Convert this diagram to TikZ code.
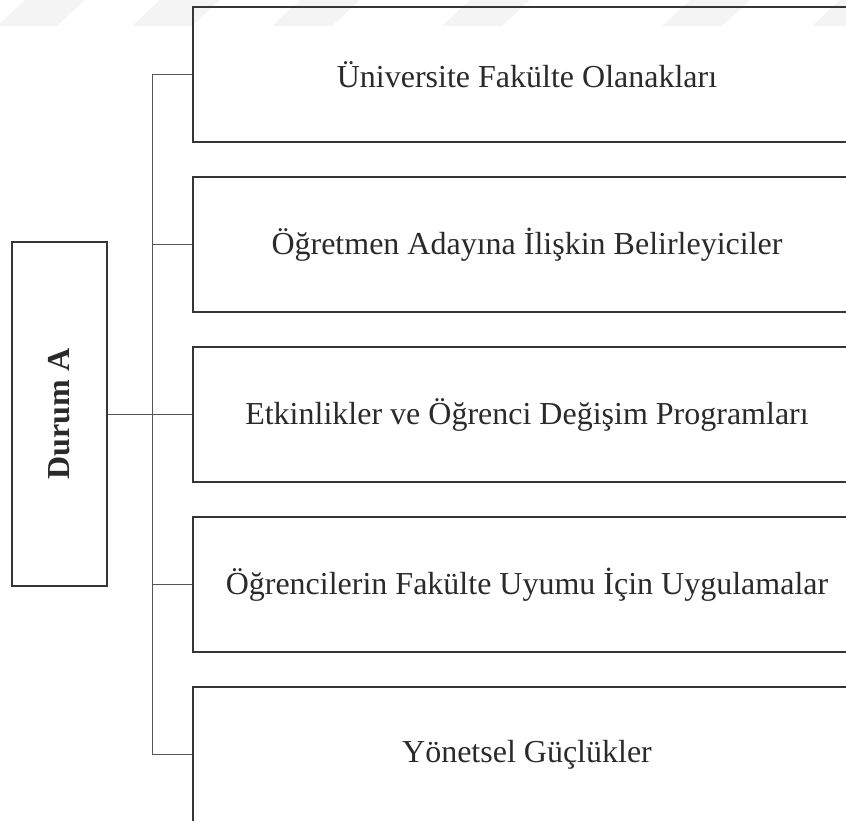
\documentclass[tikz,border=0pt]{standalone}
\usepackage{fontspec}
\setmainfont{Liberation Serif}
\usetikzlibrary{positioning,calc}
\definecolor{edge}{HTML}{353535}
\definecolor{wirec}{HTML}{555555}
\definecolor{ink}{HTML}{2A2A2A}
\definecolor{wmgray}{HTML}{F4F4F4}

\begin{document}
\begin{tikzpicture}[x=0.5pt,y=-0.5pt,
  catbox/.style={draw=edge,line width=1.1pt,minimum width=334pt,minimum height=67.5pt,inner sep=0pt,font=\fontsize{16}{19}\selectfont,text=ink},
  rootbox/.style={draw=edge,line width=1.1pt,minimum width=172pt,minimum height=47.5pt,inner sep=0pt,rotate=90,font=\fontsize{16}{19}\selectfont\bfseries,text=ink},
  wire/.style={draw=wirec,line width=0.5pt}]
\useasboundingbox (0,0) rectangle (846,820);
% faint background marks
\foreach \xa in {25,160,300,470,690,840}
  \fill[wmgray] (\xa,0) -- ++(60,0) -- ++(-28,26) -- ++(-60,0) -- cycle;
\node[rootbox] (root) at (59.5,414) {Durum A};
\foreach \name/\yy/\txt in {uni/74.5/{Üniversite Fakülte Olanakları},
    aday/244.5/{Öğretmen Adayına İlişkin Belirleyiciler},
    etk/414.5/{Etkinlikler ve Öğrenci Değişim Programları},
    uyum/584.5/{Öğrencilerin Fakülte Uyumu İçin Uygulamalar},
    yon/754.5/{Yönetsel Güçlükler}}
  \node[catbox] (\name) at (527,\yy) {\txt};
% trunk and branches
\coordinate (trunktop) at (152,74.5);
\coordinate (trunkbot) at (152,754.5);
\draw[wire] (trunktop) -- (trunkbot);
\draw[wire] (root.south) -- (root.south -| trunktop);
\foreach \name in {uni,aday,etk,uyum,yon}
  \draw[wire] (\name.west -| trunktop) -- (\name.west);
\end{tikzpicture}
\end{document}
